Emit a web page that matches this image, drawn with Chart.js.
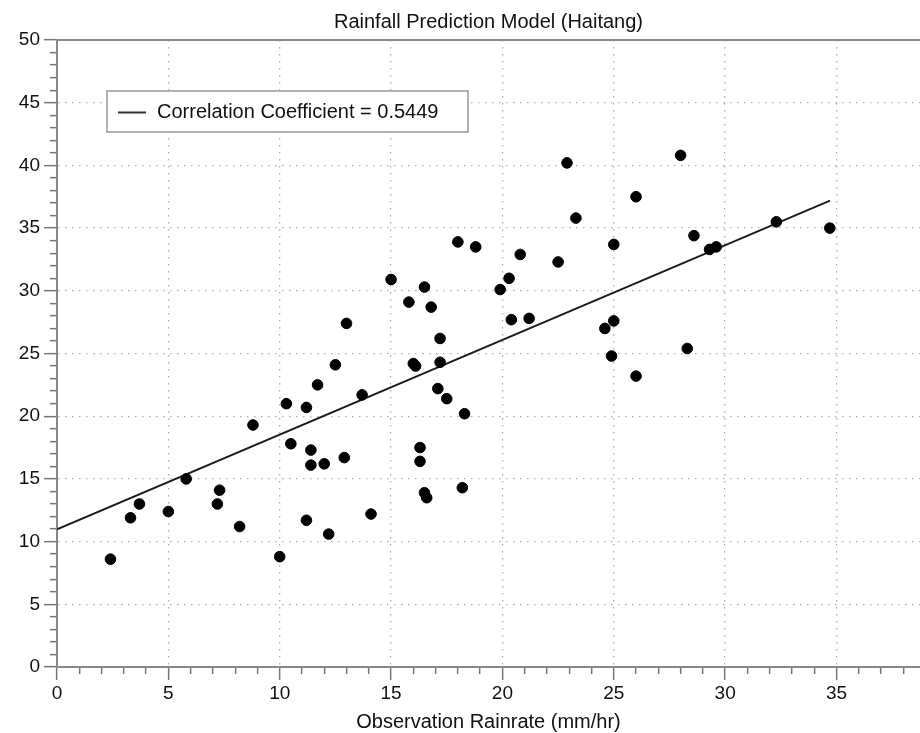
<!DOCTYPE html>
<html>
<head>
<meta charset="utf-8">
<title>Rainfall Prediction Model (Haitang)</title>
<script src="https://cdn.jsdelivr.net/npm/chart.js@4.4.0/dist/chart.umd.min.js"></script>
<style>
  html, body { margin: 0; padding: 0; background: #fff; }
  #wrap { width: 920px; height: 733px; }
</style>
</head>
<body>
<div id="wrap"><canvas id="rainChart" width="920" height="733"></canvas></div>
<script>
// observation vs predicted rain rate (mm/hr)
const obsRain = [
  2.4, 3.3, 3.7, 5.0, 5.8, 7.2, 7.3, 8.2, 8.8, 10.0,
  10.3, 10.5, 11.2, 11.2, 11.4, 11.4, 11.7, 12.0, 12.2, 12.5,
  12.9, 13.0, 13.7, 14.1, 15.0, 15.8, 16.0, 16.1, 16.3, 16.3,
  16.5, 16.5, 16.6, 16.8, 17.1, 17.2, 17.2, 17.5, 18.0, 18.2,
  18.3, 18.8, 19.9, 20.3, 20.4, 20.8, 21.2, 22.5, 22.9, 23.3,
  24.6, 24.9, 25.0, 25.0, 26.0, 26.0, 28.0, 28.3, 28.6, 29.3,
  29.6, 32.3, 34.7
];
const predRain = [
  8.6, 11.9, 13.0, 12.4, 15.0, 13.0, 14.1, 11.2, 19.3, 8.8,
  21.0, 17.8, 20.7, 11.7, 17.3, 16.1, 22.5, 16.2, 10.6, 24.1,
  16.7, 27.4, 21.7, 12.2, 30.9, 29.1, 24.2, 24.0, 17.5, 16.4,
  30.3, 13.9, 13.5, 28.7, 22.2, 26.2, 24.3, 21.4, 33.9, 14.3,
  20.2, 33.5, 30.1, 31.0, 27.7, 32.9, 27.8, 32.3, 40.2, 35.8,
  27.0, 24.8, 33.7, 27.6, 37.5, 23.2, 40.8, 25.4, 34.4, 33.3,
  33.5, 35.5, 35.0
];

// regression line end points
const fitX = [0, 34.71];
const fitY = [10.98, 37.19];

const xTickLabels = [0, 5, 10, 15, 20, 25, 30, 35];
const yTickLabels = [0, 5, 10, 15, 20, 25, 30, 35, 40, 45, 50];
const corrLabel = "Correlation Coefficient = 0.5449";

const FONT = "'Liberation Sans', Arial, Helvetica, sans-serif";
Chart.defaults.font.family = FONT;
Chart.defaults.color = "#111";

function unitTicks(from, to) {
  const out = [];
  for (let v = from; v <= to; v++) out.push({ value: v });
  return out;
}

const isMajor = (ctx) => ctx.tick && ctx.tick.value % 5 === 0;

// legend box drawn inside the plot, like the original
const insideLegend = {
  id: "insideLegend",
  afterDatasetsDraw(chart) {
    const ctx = chart.ctx;
    const ds = chart.data.datasets[1];
    ctx.save();
    ctx.fillStyle = "#fff";
    ctx.fillRect(107, 91, 361, 41);
    ctx.strokeStyle = "#999";
    ctx.lineWidth = 1.5;
    ctx.strokeRect(107, 91, 361, 41);
    ctx.strokeStyle = "#333";
    ctx.lineWidth = 2;
    ctx.beginPath();
    ctx.moveTo(118, 112.5);
    ctx.lineTo(146, 112.5);
    ctx.stroke();
    ctx.fillStyle = "#111";
    ctx.font = "20px " + FONT;
    ctx.textBaseline = "middle";
    ctx.fillText(ds.label, 157, 112);
    ctx.restore();
  },
};

new Chart(document.getElementById("rainChart"), {
  type: "scatter",
  data: {
    datasets: [
      {
        label: "Observations",
        data: obsRain.map((x, i) => ({ x: x, y: predRain[i] })),
        backgroundColor: "#000",
        borderColor: "#000",
        pointRadius: 5.3,
        pointHoverRadius: 5.3,
      },
      {
        label: corrLabel,
        data: fitX.map((x, i) => ({ x: x, y: fitY[i] })),
        showLine: true,
        borderColor: "#1a1a1a",
        borderWidth: 1.8,
        pointRadius: 0,
        fill: false,
      },
    ],
  },
  options: {
    responsive: false,
    animation: false,
    events: [],
    layout: {
      autoPadding: false, // plot runs right up to the canvas edge
      padding: { top: 10, left: 0, right: 0, bottom: 0 },
    },
    plugins: {
      legend: { display: false },
      tooltip: { enabled: false },
      title: {
        display: true,
        fullSize: false,
        text: "Rainfall Prediction Model (Haitang)",
        color: "#111",
        font: { size: 20, weight: "normal", lineHeight: 1.2 },
        padding: { top: 0, bottom: 6 },
      },
    },
    scales: {
      x: {
        type: "linear",
        position: "bottom",
        min: 0,
        max: 38.75,
        afterBuildTicks: (s) => { s.ticks = unitTicks(0, 38); },
        afterFit: (s) => {
          s.height = 66;
          s.paddingRight = 0;
        },
        ticks: {
          autoSkip: false,
          maxRotation: 0,
          padding: 2,
          color: "#111",
          font: { size: 19 },
          callback: (v) => (xTickLabels.includes(v) ? String(v) : ""),
        },
        grid: {
          color: (ctx) => (isMajor(ctx) ? "#b0b0b0" : "rgba(0,0,0,0)"),
          lineWidth: 1.3,
          tickLength: 13,
          tickColor: "#777",
          tickWidth: 1.5,
          tickBorderDash: (ctx) => (isMajor(ctx) ? [] : [6, 20]),
        },
        border: { color: "#888", width: 2, dash: [1.5, 5.5] },
        title: {
          display: true,
          text: "Observation Rainrate (mm/hr)",
          color: "#111",
          font: { size: 20, lineHeight: 1.1 },
          padding: { top: 0, bottom: 0 },
        },
      },
      xTop: {
        type: "linear",
        position: "top",
        min: 0,
        max: 38.75,
        afterFit: (s) => {
          s.height = 0;
          s.paddingRight = 0;
        },
        ticks: { display: false },
        grid: { display: false },
        border: { color: "#888", width: 2 },
      },
      y: {
        type: "linear",
        min: 0,
        max: 50,
        afterBuildTicks: (s) => { s.ticks = unitTicks(0, 50); },
        afterFit: (s) => { s.width = 57; },
        ticks: {
          autoSkip: false,
          padding: 4,
          color: "#111",
          font: { size: 19 },
          callback: (v) => (yTickLabels.includes(v) ? String(v) : ""),
        },
        grid: {
          color: (ctx) => (isMajor(ctx) ? "#b0b0b0" : "rgba(0,0,0,0)"),
          lineWidth: 1.3,
          tickLength: 13,
          tickColor: "#777",
          tickWidth: 1.5,
          tickBorderDash: (ctx) => (isMajor(ctx) ? [] : [6, 6]),
          tickBorderDashOffset: (ctx) => (isMajor(ctx) ? 0 : 6),
        },
        border: { color: "#888", width: 2, dash: [1.5, 5.5] },
      },
    },
  },
  plugins: [insideLegend],
});
</script>
</body>
</html>
